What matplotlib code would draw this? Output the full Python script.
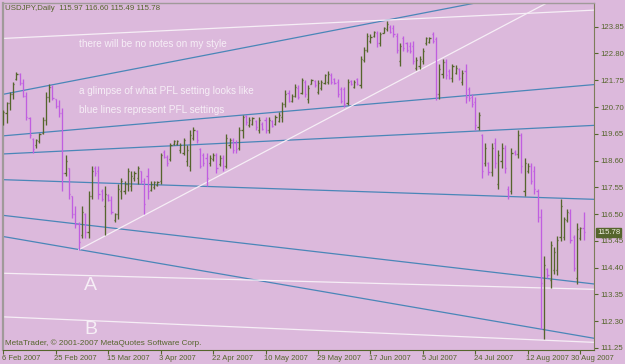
import matplotlib
matplotlib.use("Agg")
import matplotlib.pyplot as plt
import matplotlib.transforms as mtransforms
from matplotlib.collections import LineCollection
import numpy as np

plt.rcParams['font.family'] = ['Liberation Sans', 'DejaVu Sans']

# ---------------- data (USDJPY daily bars) ----------------
opens = [120.05,120.45,120.85,121.20,121.80,122.00,121.65,121.15,120.28,119.45,
         119.20,119.35,119.70,120.20,121.10,121.50,121.00,120.75,120.45,118.10,
         118.30,117.20,116.50,116.10,115.70,116.50,115.80,117.20,118.30,118.20,
         117.40,116.80,117.25,117.05,116.25,116.50,117.40,117.40,117.70,117.60,
         117.90,117.90,118.20,117.80,118.00,117.45,117.55,117.65,117.80,118.95,
         118.75,118.65,119.25,119.25,119.00,118.90,118.60,118.40,119.50,119.75,
         119.05,118.80,118.70,118.50,118.65,118.80,118.45,118.70,118.40,119.20,
         119.40,119.30,119.10,119.80,120.35,120.00,120.05,120.15,119.80,120.05,
         120.20,119.80,120.15,120.05,120.15,120.30,120.80,121.25,120.95,121.15,
         121.45,121.25,121.70,121.00,121.62,121.72,121.30,121.45,121.65,121.70,
         121.95,121.80,121.70,121.40,121.40,120.85,121.72,121.50,121.80,121.55,
         122.55,122.95,123.30,123.50,123.60,123.20,123.62,123.75,123.85,123.80,
         123.50,122.50,123.40,123.20,123.10,123.10,122.25,122.30,122.50,123.20,
         123.25,123.55,123.35,121.20,122.00,122.45,122.10,121.85,122.05,122.20,
         121.70,122.10,121.40,121.10,120.90,119.90,119.60,118.50,118.50,118.15,
         119.30,117.70,118.60,119.10,117.50,117.40,118.95,118.85,119.60,117.40,
         118.20,118.40,118.20,117.40,116.40,112.00,114.35,113.90,114.30,114.30,
         115.60,115.60,116.25,116.55,115.60,114.00,115.55,115.97]
highs = [120.60,120.90,121.28,121.68,122.08,122.03,121.80,121.28,120.30,119.50,
         119.45,119.70,120.30,121.28,121.60,121.55,121.00,120.96,120.65,118.80,
         118.30,117.20,116.80,116.20,116.80,116.55,117.40,118.40,118.40,118.40,
         117.50,117.60,117.30,117.20,116.55,117.70,117.90,117.80,118.30,118.20,
         118.20,118.40,118.20,117.90,118.30,117.80,117.80,117.80,118.90,119.00,
         118.80,119.30,119.40,119.40,119.30,119.50,119.20,119.80,119.90,119.80,
         119.10,118.90,118.90,118.80,118.90,118.90,118.80,118.80,119.65,119.50,
         119.50,119.40,119.90,120.40,120.40,120.30,120.30,120.20,120.30,120.10,
         120.30,120.30,120.20,120.40,120.50,120.90,121.35,121.35,121.20,121.60,
         121.55,121.85,121.75,121.55,121.80,121.75,121.75,121.75,122.00,122.10,
         122.05,121.85,121.80,121.50,121.50,121.80,121.75,121.75,121.85,122.70,
         123.05,123.60,123.55,123.70,123.70,123.65,123.85,124.07,123.90,123.90,
         123.60,123.20,123.50,123.25,123.25,123.30,122.65,122.70,123.00,123.45,
         123.45,123.65,123.45,122.40,122.60,122.60,122.20,122.40,122.35,122.25,
         122.15,122.40,121.50,121.20,121.10,120.50,119.65,119.27,118.55,119.27,
         119.50,119.00,119.30,119.20,117.60,119.10,119.00,119.80,119.70,118.70,
         118.50,118.50,118.40,117.50,116.70,114.85,114.40,115.45,115.20,115.65,
         117.10,116.40,116.70,116.70,115.70,116.15,116.00,116.60]
lows = [119.98,120.06,120.57,121.03,121.75,121.55,121.08,120.18,119.50,118.90,
        119.10,119.27,119.66,119.98,120.90,120.96,120.65,120.30,117.40,118.00,
        117.10,116.35,115.96,115.10,115.57,115.57,115.57,117.10,118.00,117.10,
        117.00,115.70,117.00,116.50,116.20,116.30,117.10,117.30,117.40,117.40,
        117.80,117.70,117.70,116.50,117.10,117.40,117.50,117.60,117.70,118.70,
        118.40,118.60,119.20,119.20,118.90,118.80,118.40,118.20,119.40,119.30,
        118.30,118.40,117.60,118.40,118.60,118.10,118.40,118.20,118.30,119.10,
        118.90,118.90,119.00,119.50,120.00,119.90,120.00,119.80,119.70,119.80,
        119.70,119.70,119.90,120.00,120.10,120.10,120.70,120.90,120.90,121.10,
        121.00,121.20,121.10,120.85,121.60,121.50,121.20,121.35,121.60,121.60,
        121.60,121.60,121.10,120.85,120.70,120.76,121.55,121.45,121.55,121.45,
        122.45,122.85,123.20,123.45,123.05,123.10,123.60,123.70,123.60,123.45,
        122.80,122.30,122.90,122.85,122.80,122.40,122.15,122.20,122.40,123.15,
        123.20,123.20,120.97,121.00,121.85,121.80,121.80,121.70,122.00,121.75,
        121.55,120.85,120.95,120.70,119.80,119.80,117.90,118.40,118.05,118.00,
        118.30,117.50,118.30,118.10,117.10,117.30,118.80,118.70,118.10,117.20,
        118.10,117.70,117.30,116.20,112.00,111.60,114.00,113.60,114.15,114.10,
        115.45,115.50,116.20,115.35,114.25,113.75,115.50,115.49]
closes = [120.50,120.85,121.20,121.60,122.00,121.65,121.15,120.30,119.60,119.05,
          119.40,119.65,120.20,121.10,121.50,121.05,120.75,120.45,118.10,118.60,
          117.30,116.50,116.10,115.40,116.60,115.80,117.20,118.20,118.10,117.30,
          117.10,117.30,117.05,116.60,116.50,117.50,117.80,117.70,118.20,118.00,
          118.10,118.30,117.80,116.90,117.40,117.70,117.75,117.75,118.80,118.75,
          118.50,119.20,119.35,119.35,119.20,119.40,119.00,119.60,119.80,119.40,
          118.40,118.50,117.90,118.70,118.80,118.30,118.70,118.40,119.50,119.40,
          119.00,119.05,119.80,120.30,120.10,120.20,120.25,119.90,120.20,119.85,
          119.80,120.20,119.95,120.30,120.40,120.80,121.20,120.95,121.15,121.50,
          121.10,121.75,121.20,121.45,121.75,121.55,121.65,121.70,121.95,122.00,
          121.70,121.65,121.20,120.95,120.80,121.70,121.60,121.70,121.60,122.60,
          122.95,123.50,123.45,123.65,123.20,123.55,123.80,123.95,123.65,123.55,
          122.95,123.10,123.00,122.95,122.90,122.50,122.55,122.60,122.90,123.40,
          123.40,123.30,121.20,122.20,122.45,121.95,121.85,122.30,122.25,121.85,
          122.05,121.10,121.05,120.80,120.00,120.40,118.20,119.10,118.15,119.10,
          118.50,118.80,119.10,118.30,117.20,118.90,118.85,119.60,118.40,118.50,
          118.40,117.80,117.50,116.40,113.80,114.50,114.10,115.30,115.00,115.50,
          116.80,116.30,116.60,115.50,114.40,115.90,115.95,115.78]

date_idx = [0, 16, 32, 48, 64, 80, 96, 112, 128, 144, 160, 176]
date_labels = ["6 Feb 2007", "25 Feb 2007", "15 Mar 2007", "3 Apr 2007",
               "22 Apr 2007", "10 May 2007", "29 May 2007", "17 Jun 2007",
               "5 Jul 2007", "24 Jul 2007", "12 Aug 2007", "30 Aug 2007"]
price_ticks = [111.25, 112.30, 113.35, 114.40, 115.45, 116.50, 117.55,
               118.60, 119.65, 120.70, 121.75, 122.80, 123.85]

# trend lines: (bar index, price) endpoints
blue_lines = [((0, 121.20), (144, 124.78)),
              ((0, 119.57), (180.2, 121.58)),
              ((0, 118.86), (180.2, 119.98)),
              ((0, 117.85), (180.2, 117.08)),
              ((0, 116.45), (180.2, 113.76)),
              ((0, 115.62), (180.2, 111.63))]
white_lines = [((0, 123.39), (180.2, 124.50)),
               ((23, 115.10), (165.8, 124.78)),
               ((0, 114.18), (180.2, 113.55)),
               ((0, 112.47), (180.2, 111.47))]

title = "USDJPY,Daily  115.97 116.60 115.49 115.78"
last_price = 115.78

# ---------------- style ----------------
BG = "#dcb9dc"
OLIVE = "#55652c"
MAGENTA = "#c05ee0"
BLUE = "#4a86b8"
WHITE = "#f6eef6"
GREY = "#a09a9a"

W, H = 625, 364
fig = plt.figure(figsize=(W / 100, H / 100), dpi=100)
fig.patch.set_facecolor(BG)
ax = fig.add_axes([3 / W, (H - 350) / H, (594 - 3) / W, (350 - 3) / H])
ax.set_facecolor(BG)
ax.set_xlim(-0.1, 180.2)
ax.set_ylim(111.17, 124.78)

# lines
for (x0, y0), (x1, y1) in blue_lines:
    ax.plot([x0, x1], [y0, y1], color=BLUE, lw=0.9, zorder=2)
for (x0, y0), (x1, y1) in white_lines:
    ax.plot([x0, x1], [y0, y1], color=WHITE, lw=0.9, zorder=2)

# OHLC bars
segs, cols = [], []
for i, (o, h, l, c) in enumerate(zip(opens, highs, lows, closes)):
    col = OLIVE if c >= o else MAGENTA
    segs += [[(i, l), (i, h)], [(i - 0.35, o), (i, o)], [(i, c), (i + 0.35, c)]]
    cols += [col] * 3
ax.add_collection(LineCollection(segs, colors=cols, linewidths=0.95, zorder=3))

# axes styling
for s in ['left', 'top']:
    ax.spines[s].set_color(GREY)
ax.spines['left'].set_linewidth(1.6)
ax.spines['top'].set_linewidth(1.0)
ax.spines['right'].set_color("#7d7d5a")
ax.spines['bottom'].set_color(OLIVE)
ax.yaxis.tick_right()
ax.set_yticks(price_ticks)
ax.set_yticklabels([f"{v:.2f}" for v in price_ticks])
ax.tick_params(axis='y', colors=OLIVE, labelsize=5.6, length=3, width=0.8, pad=1.5)
ax.set_xticks(date_idx)
ax.set_xticklabels([])
ax.tick_params(axis='x', colors=OLIVE, length=3, width=0.8)

btrans = mtransforms.blended_transform_factory(ax.transData, ax.transAxes)
for k, (idx, lab) in enumerate(zip(date_idx, date_labels)):
    xpos = idx - 0.4 if k < len(date_idx) - 1 else idx - 2.7
    ax.text(xpos, -0.015, lab, transform=btrans, ha='left', va='top',
            fontsize=5.5, color=OLIVE, clip_on=False)

# current price box
rtrans = mtransforms.blended_transform_factory(ax.transAxes, ax.transData)
ax.text(1.005, last_price, f"{last_price:.2f}", transform=rtrans, ha='left',
        va='center', fontsize=5.6, color="#f0f0e0", clip_on=False, zorder=6,
        bbox=dict(boxstyle='square,pad=0.15', fc=OLIVE, ec=OLIVE))

# texts
fig.text(5 / W, 1 - 8 / H, title, fontsize=5.7, color=OLIVE, ha='left', va='center')
fig.text(79 / W, 1 - 44 / H, "there will be no notes on my style",
         fontsize=7.2, color=WHITE, ha='left', va='center')
fig.text(79 / W, 1 - 91 / H, "a glimpse of what PFL setting looks like",
         fontsize=7.2, color=WHITE, ha='left', va='center')
fig.text(79 / W, 1 - 110 / H, "blue lines represent PFL settings",
         fontsize=7.2, color=WHITE, ha='left', va='center')
fig.text(84 / W, 1 - 286 / H, "A", fontsize=14, color=WHITE, ha='left', va='center')
fig.text(84 / W, 1 - 330 / H, "B", fontsize=14, color=WHITE, ha='left', va='center')
fig.text(5 / W, 1 - 343 / H, "MetaTrader, \u00a9 2001-2007 MetaQuotes Software Corp.",
         fontsize=5.9, color=OLIVE, ha='left', va='center')

fig.savefig("out.png", dpi=100, facecolor=BG)
